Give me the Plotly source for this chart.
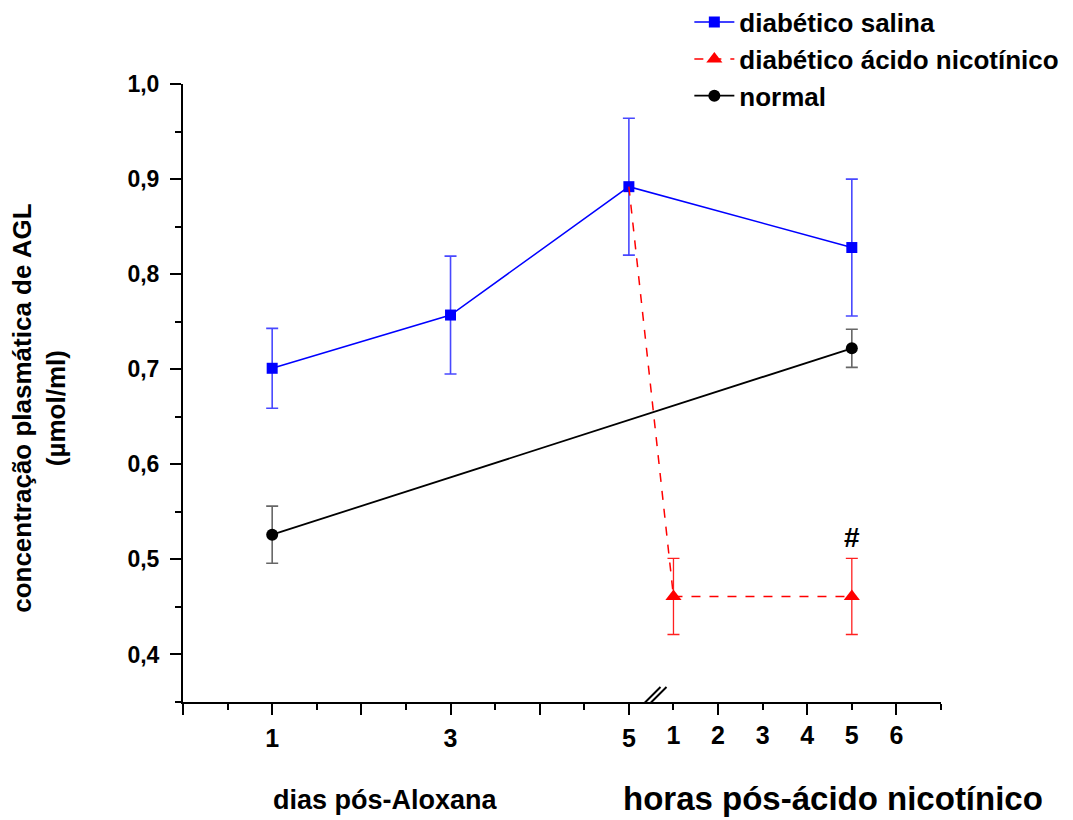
import plotly.graph_objects as go

# ---- data -------------------------------------------------------------
# days after alloxan
dias = [1, 3, 5]
salina_dias = [0.701, 0.757, 0.892]
salina_dias_err = [0.042, 0.062, 0.072]

# hours after nicotinic acid
salina_horas = [5]
salina_horas_val = [0.828]
salina_horas_err = [0.072]

nicotinico_horas = [1, 5]
nicotinico_val = [0.461, 0.461]
nicotinico_err = [0.040, 0.040]

normal_dias = [1]
normal_dias_val = [0.526]
normal_dias_err = [0.030]
normal_horas = [5]
normal_horas_val = [0.722]
normal_horas_err = [0.020]

dia_ticks = [1, 3, 5]
hora_ticks = [1, 2, 3, 4, 5, 6]

# ---- broken x axis: days on the left, hours after day 5 (half-day per hour)
DIA_FIM = 5
HORA_ESCALA = 0.5


def pos_hora(h):
    return DIA_FIM + h * HORA_ESCALA


FONT = "Liberation Sans, Arial, sans-serif"
X_MAX = pos_hora(7)

fig = go.Figure()

fig.add_trace(go.Scatter(
    x=dias + [pos_hora(h) for h in salina_horas],
    y=salina_dias + salina_horas_val,
    error_y=dict(type="data", array=salina_dias_err + salina_horas_err,
                 color="rgba(40,40,255,0.85)", thickness=1.6, width=6),
    mode="lines+markers",
    line=dict(color="#0000ff", width=1.5),
    marker=dict(symbol="square", size=11, color="#0000ff"),
    name="diabético salina", legendgroup="a",
))

# dashed connection from the last day to the first hour
fig.add_trace(go.Scatter(
    x=[dias[-1], pos_hora(nicotinico_horas[0])],
    y=[salina_dias[-1], nicotinico_val[0]],
    mode="lines",
    line=dict(color="#ff0000", width=1.5, dash="dash"),
    showlegend=False, hoverinfo="skip",
))
fig.add_trace(go.Scatter(
    x=[pos_hora(h) for h in nicotinico_horas],
    y=nicotinico_val,
    error_y=dict(type="data", array=nicotinico_err,
                 color="#ff2020", thickness=1.3, width=6),
    mode="lines+markers",
    line=dict(color="#ff0000", width=1.5, dash="dash"),
    marker=dict(symbol="triangle-up", size=14, color="#ff0000"),
    name="diabético ácido nicotínico", legendgroup="b",
))

fig.add_trace(go.Scatter(
    x=normal_dias + [pos_hora(h) for h in normal_horas],
    y=normal_dias_val + normal_horas_val,
    error_y=dict(type="data", array=normal_dias_err + normal_horas_err,
                 color="rgba(0,0,0,0.6)", thickness=1.6, width=6),
    mode="lines+markers",
    line=dict(color="#000000", width=1.8),
    marker=dict(symbol="circle", size=12, color="#000000"),
    name="normal", legendgroup="c",
))

# empty traces so the two label axes (days / hours) get drawn
fig.add_trace(go.Scatter(x=dia_ticks, y=[None] * len(dia_ticks),
                         xaxis="x2", mode="markers", showlegend=False,
                         hoverinfo="skip"))
fig.add_trace(go.Scatter(x=[pos_hora(h) for h in hora_ticks],
                         y=[None] * len(hora_ticks),
                         xaxis="x3", mode="markers", showlegend=False,
                         hoverinfo="skip"))

# significance mark above the last nicotinic acid point
fig.add_annotation(
    x=pos_hora(nicotinico_horas[-1]), y=nicotinico_val[-1] + nicotinico_err[-1],
    xref="x", yref="y", text="<b>#</b>", showarrow=False,
    yanchor="bottom", yshift=3,
    font=dict(family=FONT, size=28, color="black", weight="bold"),
)

# axis break marks
for off in (0.0, 6.0):
    fig.add_shape(
        type="line", xref="x", yref="y",
        xsizemode="pixel", ysizemode="pixel",
        xanchor=5.22, yanchor=0.35,
        x0=-12 + off, x1=12 + off, y0=-9, y1=15,
        line=dict(color="black", width=2),
    )

tick_font = dict(family=FONT, size=23, color="black", weight="bold")
xtick_font = dict(family=FONT, size=25, color="black", weight="bold")

fig.update_layout(
    width=1073, height=820,
    margin=dict(l=182.5, r=132.3, t=84.3, b=118.3, autoexpand=False),
    paper_bgcolor="white", plot_bgcolor="white",
    separators=", ",
    font=dict(family=FONT, color="black"),
    showlegend=True,
    legend=dict(
        x=0.668, y=1.138, xanchor="left", yanchor="top",
        bgcolor="rgba(0,0,0,0)",
        font=dict(family=FONT, size=26, color="black", weight="bold"),
        tracegroupgap=0, itemwidth=40,
    ),
    xaxis=dict(
        range=[0, X_MAX], showgrid=False, zeroline=False,
        showline=True, linecolor="black", linewidth=2,
        tickmode="array", tickvals=list(range(0, 9)),
        ticks="outside", ticklen=11, tickwidth=2, tickcolor="black",
        showticklabels=False,
        minor=dict(tickmode="array",
                   tickvals=[i + 0.5 for i in range(0, 9)],
                   ticks="outside", ticklen=6, tickwidth=2, tickcolor="black"),
    ),
    xaxis2=dict(
        overlaying="x", anchor="y", side="bottom",
        range=[0, X_MAX], showgrid=False, zeroline=False, showline=False,
        tickmode="array", tickvals=dia_ticks,
        ticktext=[str(d) for d in dia_ticks],
        ticks="outside", ticklen=11, tickcolor="rgba(0,0,0,0)",
        ticklabelstandoff=3, tickfont=xtick_font,
    ),
    xaxis3=dict(
        overlaying="x", anchor="y", side="bottom",
        range=[0, X_MAX], showgrid=False, zeroline=False, showline=False,
        tickmode="array", tickvals=[pos_hora(h) for h in hora_ticks],
        ticktext=[str(h) for h in hora_ticks],
        ticks="outside", ticklen=11, tickcolor="rgba(0,0,0,0)",
        ticklabelstandoff=0, tickfont=xtick_font,
    ),
    yaxis=dict(
        range=[0.35, 1.0], showgrid=False, zeroline=False,
        showline=True, linecolor="black", linewidth=2,
        tickmode="linear", tick0=0.4, dtick=0.1, tickformat=".1f",
        ticks="outside", ticklen=11, tickwidth=2, tickcolor="black",
        ticklabelstandoff=6, tickfont=tick_font,
        minor=dict(tickmode="linear", tick0=0.35, dtick=0.1,
                   ticks="outside", ticklen=6, tickwidth=2, tickcolor="black"),
    ),
)

# axis titles
fig.add_annotation(
    xref="paper", yref="paper", x=-0.19, y=0.476,
    xanchor="center", yanchor="middle", textangle=-90, showarrow=False,
    text="concentração plasmática de AGL<br>(µmol/ml)",
    font=dict(family=FONT, size=26, color="black", weight="bold"),
)
fig.add_annotation(
    xref="paper", yref="paper", x=0.267, y=-0.159,
    xanchor="center", yanchor="middle", showarrow=False,
    text="dias pós-Aloxana",
    font=dict(family=FONT, size=27, color="black", weight="bold"),
)
fig.add_annotation(
    xref="paper", yref="paper", x=0.858, y=-117.0 / 617.4,
    xanchor="center", yanchor="bottom", showarrow=False,
    text="horas pós-ácido nicotínico",
    font=dict(family=FONT, size=33, color="black", weight="bold"),
)

fig.write_html("out.html")
